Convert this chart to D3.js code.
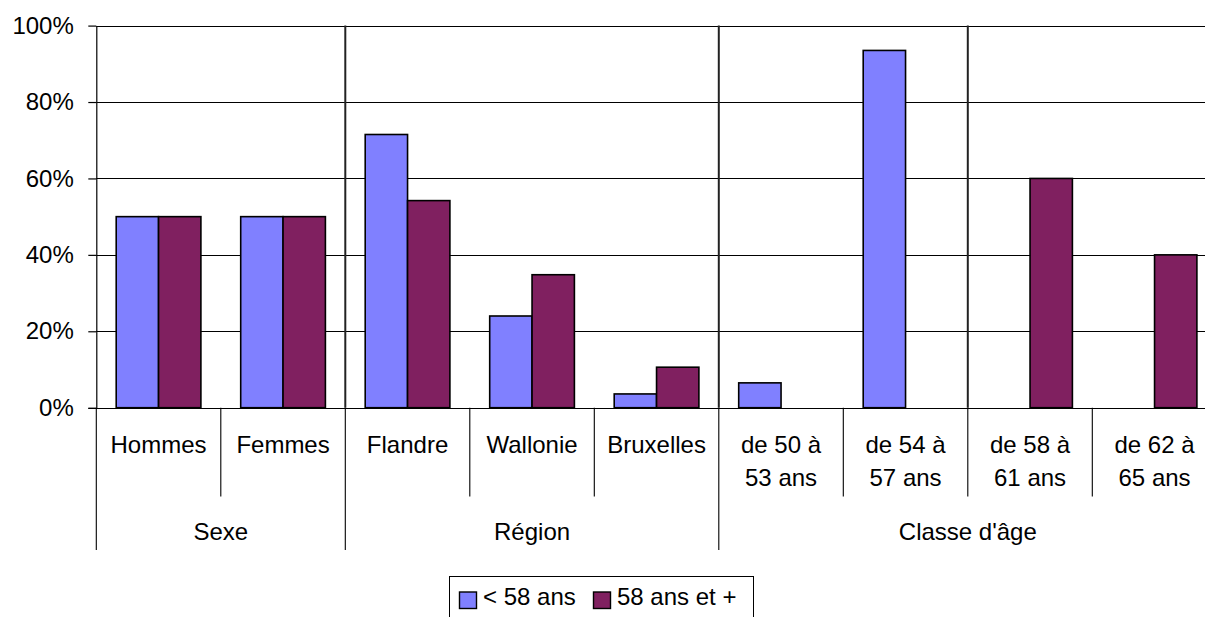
<!DOCTYPE html>
<html>
<head>
<meta charset="utf-8">
<script src="https://cdn.jsdelivr.net/npm/d3@7"></script>
<style>
  body { margin: 0; background: #fff; }
  svg { display: block; font-family: "Liberation Sans", Arial, sans-serif; }
</style>
</head>
<body>
<svg id="chart" width="1205" height="617"></svg>
<script>
// chart data
var categories = ["Hommes", "Femmes", "Flandre", "Wallonie", "Bruxelles",
  "de 50 à\n53 ans", "de 54 à\n57 ans", "de 58 à\n61 ans", "de 62 à\n65 ans"];
var groups = ["Sexe", "Région", "Classe d'âge"];
var groupOf = ["Sexe", "Sexe", "Région", "Région", "Région",
  "Classe d'âge", "Classe d'âge", "Classe d'âge", "Classe d'âge"];
var seriesNames = ["< 58 ans", "58 ans et +"];
var under58 = [0.50, 0.50, 0.715, 0.24, 0.036, 0.065, 0.935, 0, 0];
var over58 = [0.50, 0.50, 0.542, 0.348, 0.106, 0, 0, 0.60, 0.40];
var yTicks = [0, 0.2, 0.4, 0.6, 0.8, 1];
// categories that get a divider line on their left side
var dividers = ["Flandre", "de 50 à\n53 ans", "de 58 à\n61 ans"];

var colors = ["#8080ff", "#802060"];

function drawChart() {
  var svg = d3.select("#chart");
  var left = 96.3, catW = 124.5,
      top = 25.6, bottom = 407.7;

  var x = d3.scaleBand()
    .domain(categories)
    .range([left, left + catW * categories.length])
    .paddingInner(0).paddingOuter(0);

  var xs = d3.scaleBand()
    .domain(seriesNames)
    .range([0, x.bandwidth()])
    .paddingInner(0).paddingOuter(0.47);

  var y = d3.scaleLinear().domain([0, 1]).range([bottom, top]);
  var right = x.range()[1];

  // gridlines
  svg.append("g").selectAll("line")
    .data(yTicks)
    .enter().append("line")
    .attr("x1", left).attr("x2", right)
    .attr("y1", function(d) { return Math.round(y(d)) + 0.5; })
    .attr("y2", function(d) { return Math.round(y(d)) + 0.5; })
    .attr("stroke", "#000").attr("stroke-width", 1.2);

  // bars
  var rows = categories.map(function(c, i) {
    return { cat: c, vals: [under58[i], over58[i]] };
  });
  var catG = svg.append("g").selectAll("g")
    .data(rows)
    .enter().append("g")
    .attr("transform", function(d) { return "translate(" + x(d.cat) + ",0)"; });
  catG.selectAll("rect")
    .data(function(d) {
      return d.vals.map(function(v, j) { return { s: seriesNames[j], v: v, j: j }; })
        .filter(function(e) { return e.v > 0; });
    })
    .enter().append("rect")
    .attr("x", function(d) { return xs(d.s); })
    .attr("width", xs.bandwidth())
    .attr("y", function(d) { return y(d.v); })
    .attr("height", function(d) { return y(0) - y(d.v); })
    .attr("fill", function(d) { return colors[d.j]; })
    .attr("stroke", "#000").attr("stroke-width", 1.6);

  // divider lines inside the plot
  svg.append("g").selectAll("line")
    .data(dividers)
    .enter().append("line")
    .attr("x1", function(d) { return x(d); })
    .attr("x2", function(d) { return x(d); })
    .attr("y1", top).attr("y2", bottom)
    .attr("stroke", "#222").attr("stroke-width", 2);

  // y axis
  var yAxis = d3.axisLeft(y)
    .tickValues(yTicks)
    .tickFormat(d3.format(".0%"))
    .tickSize(8).tickSizeOuter(0).tickPadding(14.5);
  var ya = svg.append("g")
    .attr("transform", "translate(" + left + ",0)")
    .call(yAxis);
  ya.selectAll("text").attr("font-size", 24).attr("font-family", "Liberation Sans, Arial, sans-serif").attr("fill", "#000");
  ya.selectAll("line, path").attr("stroke", "#000").attr("stroke-width", 1.2);

  // x axis base line
  svg.append("line")
    .attr("x1", left - 8).attr("x2", right)
    .attr("y1", Math.round(bottom) + 0.5).attr("y2", Math.round(bottom) + 0.5)
    .attr("stroke", "#000").attr("stroke-width", 1.2);

  // multi level category axis
  var bounds = categories.map(function(c, i) {
    var isGroupStart = i === 0 || groupOf[i] !== groupOf[i - 1];
    return { x: x(c), long: isGroupStart };
  });
  bounds.push({ x: right, long: true });
  svg.append("g").selectAll("line")
    .data(bounds)
    .enter().append("line")
    .attr("x1", function(d) { return d.x; })
    .attr("x2", function(d) { return d.x; })
    .attr("y1", bottom)
    .attr("y2", function(d) { return d.long ? 550 : 496.5; })
    .attr("stroke", "#000").attr("stroke-width", 1.1);

  var labels = svg.append("g").selectAll("text")
    .data(categories)
    .enter().append("text")
    .attr("text-anchor", "middle")
    .attr("font-size", 24)
    .attr("fill", "#000");
  labels.each(function(c) {
    var t = d3.select(this);
    c.split("\n").forEach(function(line, k) {
      t.append("tspan")
        .attr("x", x(c) + x.bandwidth() / 2)
        .attr("y", 453 + k * 32.5)
        .text(line);
    });
  });

  svg.append("g").selectAll("text")
    .data(groups)
    .enter().append("text")
    .attr("text-anchor", "middle")
    .attr("font-size", 24)
    .attr("fill", "#000")
    .attr("x", function(g) {
      var cats = categories.filter(function(c, i) { return groupOf[i] === g; });
      return (x(cats[0]) + x(cats[cats.length - 1]) + x.bandwidth()) / 2;
    })
    .attr("y", 540)
    .text(function(g) { return g; });

  // legend
  var legend = svg.append("g").attr("transform", "translate(449.5,576.5)");
  legend.append("rect")
    .attr("width", 304).attr("height", 50)
    .attr("fill", "#fff").attr("stroke", "#000").attr("stroke-width", 1);
  var itemX = [10, 144];
  var item = legend.selectAll(".legend")
    .data(seriesNames)
    .enter().append("g")
    .attr("class", "legend")
    .attr("transform", function(d, i) { return "translate(" + itemX[i] + ",0)"; });
  item.append("rect")
    .attr("y", 15.5).attr("width", 17).attr("height", 16.5)
    .attr("fill", function(d, i) { return colors[i]; })
    .attr("stroke", "#000").attr("stroke-width", 1.4);
  item.append("text")
    .attr("x", 23.5).attr("y", 28.5)
    .attr("font-size", 24)
    .attr("fill", "#000")
    .text(function(d) { return d; });
}

drawChart();
</script>
</body>
</html>
